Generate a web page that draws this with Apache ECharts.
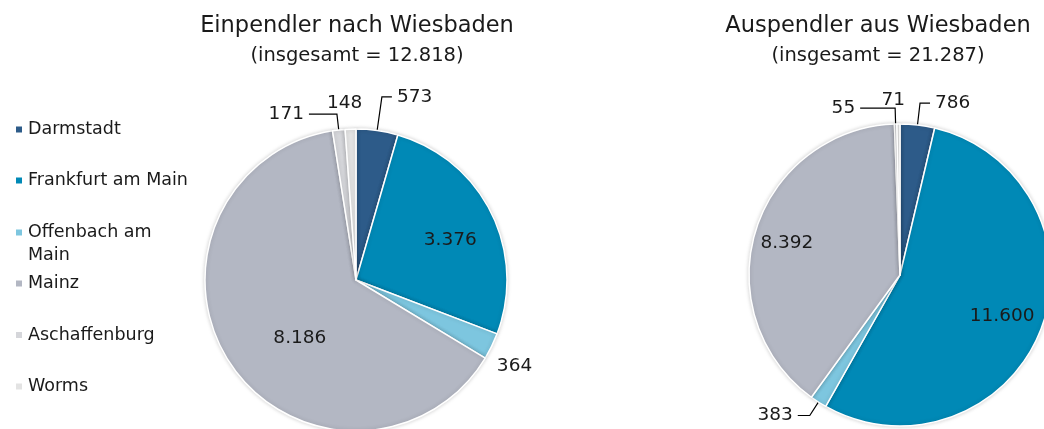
<!DOCTYPE html>
<html><head><meta charset="utf-8">
<script src="https://cdn.jsdelivr.net/npm/echarts@6/dist/echarts.min.js"></script>
<style>html,body{margin:0;padding:0;background:#fff}#c{width:1044px;height:429px}</style>
</head><body><div id="c"></div>
<script>
const categories = ['Darmstadt', 'Frankfurt am Main', 'Offenbach am Main', 'Mainz', 'Aschaffenburg', 'Worms'];
const einpendler = [573, 3376, 364, 8186, 171, 148];
const auspendler = [786, 11600, 383, 8392, 55, 71];
const titles = ['Einpendler nach Wiesbaden', 'Auspendler aus Wiesbaden'];
const subtitles = ['(insgesamt = 12.818)', '(insgesamt = 21.287)'];

const colors = ['#2D5B89', '#0089B6', '#7DC6DF', '#B3B7C3', '#D5D6DA', '#E3E3E3'];
const FONT = '"DejaVu Sans"';
const TEXT = '#1a1a1a';

function fmt(v){ return v.toLocaleString('de-DE'); }

// label placement per slice
const labelCfg1 = [
  {inside:false, line:true, len:34, len2:10},
  {inside:true, off:[24, -5]},
  {inside:false, line:false, len:18, len2:0, off:[-16, 12]},
  {inside:true, off:[9, 14]},
  {inside:false, line:true, len:16, len2:28},
  {inside:false, line:false, len:26, len2:0, align:'center'}
];
const labelCfg2 = [
  {inside:false, line:true, len:22, len2:10},
  {inside:true, off:[29, 13]},
  {inside:false, line:true, len:16, len2:12},
  {inside:true, off:[-38, -9]},
  {inside:false, line:true, len:16, len2:35},
  {inside:false, line:false, len:24, len2:0, align:'center'}
];

function buildData(values, cfg){
  return values.map((v, i) => {
    const c = cfg[i];
    const item = {name: categories[i], value: v};
    if (c.inside) {
      item.label = {position: 'inside'};
      item.labelLine = {show: false};
    } else {
      item.label = {position: 'outside'};
      item.labelLine = {show: c.line, length: c.len, length2: c.len2};
    }
    return item;
  });
}

function pieSeries(values, cfg, center){
  return {
    type: 'pie',
    center: center,
    radius: 151,
    startAngle: 90,
    clockwise: true,
    avoidLabelOverlap: false,
    animation: false,
    data: buildData(values, cfg),
    itemStyle: {borderColor: '#fff', borderWidth: 1.5, shadowBlur: 4, shadowColor: 'rgba(0,0,0,0.18)'},
    label: {
      formatter: p => fmt(p.value),
      fontFamily: FONT, fontSize: 18.5, color: TEXT
    },
    labelLine: {lineStyle: {color: '#000', width: 1.2}, smooth: false},
    labelLayout: p => {
      const c = cfg[p.dataIndex];
      const r = {hideOverlap: false};
      if (c.off) { r.dx = c.off[0]; r.dy = c.off[1]; }
      if (c.align) r.align = c.align;
      return r;
    },
    emphasis: {disabled: true}
  };
}

const chart = echarts.init(document.getElementById('c'), null, {renderer: 'canvas'});
const legendBase = {
  orient: 'vertical', left: 9, icon: 'rect', itemWidth: 8, itemHeight: 8,
  textStyle: {fontFamily: FONT, fontSize: 17.5, color: TEXT, lineHeight: 23},
  selectedMode: false
};
const titleStyle = {fontFamily: FONT, fontSize: 22.5, fontWeight: 'normal', color: TEXT};
const subStyle = {fontFamily: FONT, fontSize: 19.5, color: TEXT};
chart.setOption({
  color: colors,
  title: [
    {text: titles[0], subtext: subtitles[0], left: 352, top: 10, textAlign: 'center',
     textStyle: titleStyle, subtextStyle: subStyle, itemGap: 8},
    {text: titles[1], subtext: subtitles[1], left: 873, top: 10, textAlign: 'center',
     textStyle: titleStyle, subtextStyle: subStyle, itemGap: 8}
  ],
  legend: [
    Object.assign({}, legendBase, {top: 113, itemGap: 28, data: categories.slice(0, 2)}),
    Object.assign({}, legendBase, {top: 193, itemGap: 28, data: [categories[2]],
      formatter: n => '\u00a0\n' + n.replace(' am Main', ' am') + '\nMain'}),
    Object.assign({}, legendBase, {top: 267, itemGap: 28.5, data: categories.slice(3)})
  ],
  series: [
    pieSeries(einpendler, labelCfg1, [356, 280]),
    pieSeries(auspendler, labelCfg2, [900, 275])
  ]
});
</script></body></html>
